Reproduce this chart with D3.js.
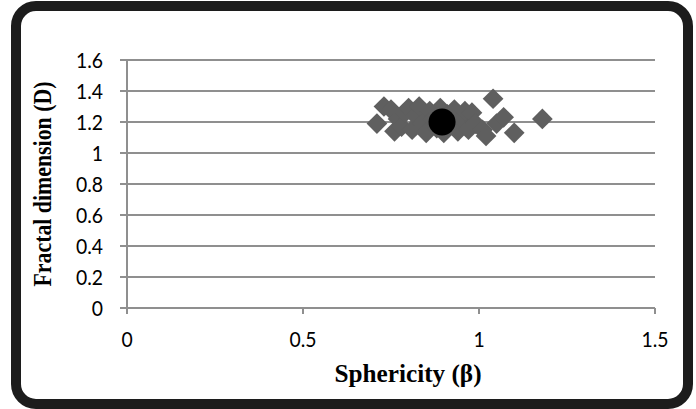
<!DOCTYPE html>
<html>
<head>
<meta charset="utf-8">
<script src="https://cdn.jsdelivr.net/npm/d3@7"></script>
<style>
  body { margin: 0; background: #fff; }
  svg { display: block; }
</style>
</head>
<body>
<div id="container"></div>
<script>
// sphericity (x) and fractal dimension (y) for each particle
let sphericity = [0.71, 0.73, 0.75, 0.76, 0.77, 0.78, 0.79, 0.80, 0.81, 0.82, 0.83, 0.84,
  0.85, 0.86, 0.87, 0.88, 0.89, 0.90, 0.91, 0.92, 0.93, 0.94, 0.95, 0.96, 0.97, 0.98,
  0.99, 1.01, 1.02, 1.04, 1.05, 1.07, 1.10, 1.18];
let fractalDim = [1.19, 1.30, 1.28, 1.14, 1.22, 1.17, 1.26, 1.29, 1.15, 1.24, 1.30, 1.19,
  1.13, 1.27, 1.22, 1.16, 1.29, 1.13, 1.25, 1.18, 1.28, 1.14, 1.22, 1.27, 1.15, 1.26,
  1.19, 1.15, 1.11, 1.35, 1.19, 1.23, 1.13, 1.22];
// mean point
let meanX = [0.895];
let meanY = [1.2];

let xTicks = [0, 0.5, 1, 1.5];
let yTicks = [0, 0.2, 0.4, 0.6, 0.8, 1, 1.2, 1.4, 1.6];

let w = 696;
let h = 409;

let viz = d3.select("#container")
  .append("svg")
  .attr("width", w)
  .attr("height", h);

// rounded frame
viz.append("rect")
  .attr("x", 16).attr("y", 6)
  .attr("width", 672).attr("height", 398)
  .attr("rx", 20).attr("ry", 20)
  .attr("fill", "white")
  .attr("stroke", "#1c1c1c")
  .attr("stroke-width", 10);

let xScale = d3.scaleLinear().domain([0, 1.5]).range([127, 655]);
let yScale = d3.scaleLinear().domain([0, 1.6]).range([308, 60]);

let gridColor = "#8f8f8f";

// horizontal gridlines + left tick stubs
viz.append("g").selectAll("line").data(yTicks).enter()
  .append("line")
  .attr("x1", 120).attr("x2", xScale(1.5))
  .attr("y1", d => yScale(d)).attr("y2", d => yScale(d))
  .attr("stroke", gridColor)
  .attr("stroke-width", 2);

// y axis line
viz.append("line")
  .attr("x1", xScale(0)).attr("x2", xScale(0))
  .attr("y1", yScale(1.6)).attr("y2", yScale(0) + 6)
  .attr("stroke", gridColor).attr("stroke-width", 2);

// x ticks
viz.append("g").selectAll("line").data(xTicks).enter()
  .append("line")
  .attr("x1", d => xScale(d)).attr("x2", d => xScale(d))
  .attr("y1", yScale(0)).attr("y2", yScale(0) + 6)
  .attr("stroke", gridColor).attr("stroke-width", 2);

let tickFont = "Lato, 'Open Sans', sans-serif";
let titleFont = "'Liberation Serif', 'Times New Roman', serif";

viz.append("g").selectAll("text").data(yTicks).enter()
  .append("text")
  .attr("transform", d => "translate(103," + (yScale(d) + 8) + ") scale(0.88,1)")
  .attr("text-anchor", "end")
  .style("font-family", tickFont)
  .style("font-size", "22px")
  .attr("fill", "#000")
  .text(d => d3.format("")(d));

viz.append("g").selectAll("text").data(xTicks).enter()
  .append("text")
  .attr("transform", d => "translate(" + xScale(d) + ",347) scale(0.88,1)")
  .attr("text-anchor", "middle")
  .style("font-family", tickFont)
  .style("font-size", "22px")
  .attr("fill", "#000")
  .text(d => d3.format("")(d));

// axis titles
viz.append("text")
  .attr("transform", "translate(408,382) scale(0.97,1)")
  .attr("text-anchor", "middle")
  .style("font-family", titleFont)
  .style("font-weight", "bold")
  .style("font-size", "26px")
  .text("Sphericity (β)");

viz.append("text")
  .attr("transform", "translate(51,184) rotate(-90) scale(0.84,1)")
  .attr("text-anchor", "middle")
  .style("font-family", titleFont)
  .style("font-weight", "bold")
  .style("font-size", "26px")
  .text("Fractal dimension (D)");

// data points
let points = sphericity.map((x, i) => ({ x: x, y: fractalDim[i] }));
let diamond = d3.symbol().type(d3.symbolSquare).size(215);

viz.append("g").selectAll("path").data(points).enter()
  .append("path")
  .attr("d", diamond)
  .attr("transform", d => "translate(" + xScale(d.x) + "," + yScale(d.y) + ") rotate(45)")
  .attr("fill", "#5f5f5f");

viz.append("g").selectAll("circle").data(meanX).enter()
  .append("circle")
  .attr("cx", d => xScale(d))
  .attr("cy", (d, i) => yScale(meanY[i]))
  .attr("r", 13.5)
  .attr("fill", "#000");
</script>
</body>
</html>
